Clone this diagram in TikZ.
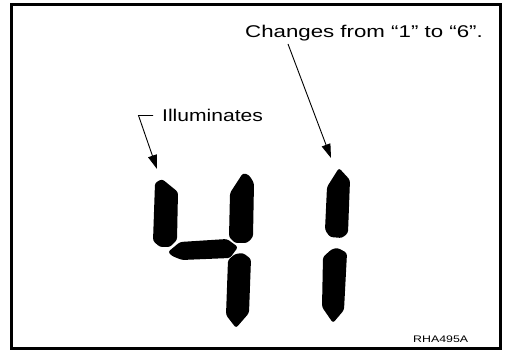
\documentclass[tikz,border=0pt]{standalone}
\usepackage{fontspec}
\setmainfont{Liberation Sans}
\usetikzlibrary{arrows.meta}
\begin{document}
\begin{tikzpicture}[x=1pt,y=-1pt,
  seg/.style={fill=black,rounded corners=2.5pt},
  lead/.style={line width=0.9pt,-{Triangle[length=14pt,width=9pt]}},
  lbl/.style={anchor=base west,inner sep=0pt,font=\fontsize{17}{20}\selectfont}]
\useasboundingbox (0,0) rectangle (507,350);
\draw[line width=3pt] (11.5,5) rectangle (500.5,348.5);
% digit 4
\fill[seg] (155,183) -- (162,179) -- (178,192) -- (177,240) -- (170,247) -- (160,247) -- (153,241) -- cycle;
\fill[seg] (243,173) -- (249,175) -- (254,183) -- (253,237) -- (247,243) -- (235,243) -- (229,237) -- (230,193) -- cycle;
\fill[seg] (168,252) -- (180,242) -- (227,239) -- (238,247) -- (230,258) -- (182,260) -- (172,256) -- cycle;
\fill[seg] (243,253) -- (251,259) -- (249,313) -- (236,328) -- (226,315) -- (228,260) -- (235,254) -- cycle;
% digit 1
\fill[seg] (339,168) -- (350,180) -- (348,233) -- (342,238) -- (330,237) -- (325,230) -- (327,187) -- cycle;
\fill[seg] (338,248) -- (347,253) -- (344,310) -- (333,323) -- (322,307) -- (323,257) -- (332,249) -- cycle;
% labels
\node[lbl] (chg) at (245,38) {\scalebox{1.31}[1]{Changes from “1” to “6”.}};
\node[lbl] (ill) at (162,122) {\scalebox{1.24}[1]{Illuminates}};
\node[anchor=base west,inner sep=0pt,font=\fontsize{9.5}{11}\selectfont] (code) at (413,343) {\scalebox{1.3}[1]{RHA495A}};
% leaders
\coordinate (c1) at (288,44);
\coordinate (t1) at (331,158);
\draw[lead] (c1) -- (t1);
\coordinate (i1) at (153,115.5);
\coordinate (i2) at (138.5,115.5);
\coordinate (t2) at (157,169);
\draw[lead] (i1) -- (i2) -- (t2);
\end{tikzpicture}
\end{document}
